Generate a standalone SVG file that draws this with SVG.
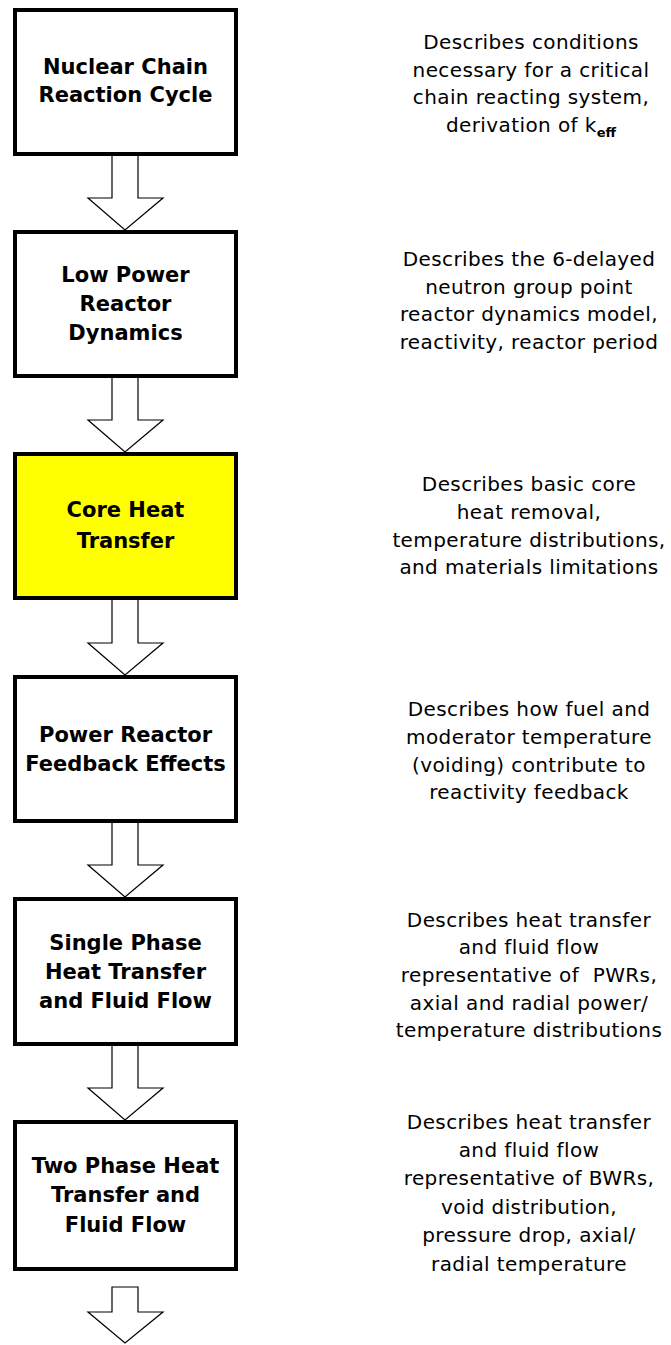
<svg xmlns="http://www.w3.org/2000/svg" width="671" height="1345" viewBox="0 0 671 1345">
<style>
.box{fill:#ffffff;stroke:#000000;stroke-width:4}
.hl{fill:#ffff00}
.arr{fill:#ffffff;stroke:#000000;stroke-width:1.2;stroke-linejoin:miter}
.lbl{font-family:"DejaVu Sans","Liberation Sans",sans-serif;font-weight:bold;font-size:21px;fill:#000000;text-anchor:middle}
.desc{font-family:"DejaVu Sans","Liberation Sans",sans-serif;font-size:20px;letter-spacing:0.4px;fill:#000000;text-anchor:middle}
.sub{font-weight:bold;font-size:13px;letter-spacing:0}
</style>
<rect width="671" height="1345" fill="#ffffff"/>
<g id="connectors">
<polygon class="arr" points="112,154 138,154 138,198 163,198 125,230 88,198 112,198"/>
<polygon class="arr" points="112,376 138,376 138,420 163,420 125,452 88,420 112,420"/>
<polygon class="arr" points="112,598 138,598 138,643 163,643 125,675 88,643 112,643"/>
<polygon class="arr" points="112,821 138,821 138,865 163,865 125,897 88,865 112,865"/>
<polygon class="arr" points="112,1044 138,1044 138,1088 163,1088 125,1120 88,1088 112,1088"/>
<polygon class="arr" points="112,1287 138,1287 138,1312 163,1312 125,1343 88,1312 112,1312"/>
</g>
<g id="node1">
<rect class="box" x="15" y="10" width="221" height="144"/>
<text class="lbl" x="125.5" y="74">Nuclear Chain</text>
<text class="lbl" x="125.5" y="102">Reaction Cycle</text>
</g>
<g id="node2">
<rect class="box" x="15" y="232" width="221" height="144"/>
<text class="lbl" x="125.5" y="282">Low Power</text>
<text class="lbl" x="125.5" y="311">Reactor</text>
<text class="lbl" x="125.5" y="340">Dynamics</text>
</g>
<g id="node3">
<rect class="box hl" x="15" y="454" width="221" height="144"/>
<text class="lbl" x="125.5" y="517">Core Heat</text>
<text class="lbl" x="125.5" y="548">Transfer</text>
</g>
<g id="node4">
<rect class="box" x="15" y="677" width="221" height="144"/>
<text class="lbl" x="125.5" y="742">Power Reactor</text>
<text class="lbl" x="125.5" y="771">Feedback Effects</text>
</g>
<g id="node5">
<rect class="box" x="15" y="899" width="221" height="145"/>
<text class="lbl" x="125.5" y="950">Single Phase</text>
<text class="lbl" x="125.5" y="979">Heat Transfer</text>
<text class="lbl" x="125.5" y="1008">and Fluid Flow</text>
</g>
<g id="node6">
<rect class="box" x="15" y="1122" width="221" height="147"/>
<text class="lbl" x="125.5" y="1173">Two Phase Heat</text>
<text class="lbl" x="125.5" y="1202">Transfer and</text>
<text class="lbl" x="125.5" y="1232">Fluid Flow</text>
</g>
<g id="desc1">
<text class="desc" x="531" y="49">Describes conditions</text>
<text class="desc" x="531" y="77">necessary for a critical</text>
<text class="desc" x="531" y="104">chain reacting system,</text>
<text class="desc" x="531" y="132">derivation of k<tspan class="sub" dy="5">eff</tspan></text>
</g>
<g id="desc2">
<text class="desc" x="529" y="266">Describes the 6-delayed</text>
<text class="desc" x="529" y="294">neutron group point</text>
<text class="desc" x="529" y="321">reactor dynamics model,</text>
<text class="desc" x="529" y="349">reactivity, reactor period</text>
</g>
<g id="desc3">
<text class="desc" x="529" y="491">Describes basic core</text>
<text class="desc" x="529" y="519">heat removal,</text>
<text class="desc" x="529" y="547">temperature distributions,</text>
<text class="desc" x="529" y="574">and materials limitations</text>
</g>
<g id="desc4">
<text class="desc" x="529" y="716">Describes how fuel and</text>
<text class="desc" x="529" y="744">moderator temperature</text>
<text class="desc" x="529" y="772">(voiding) contribute to</text>
<text class="desc" x="529" y="799">reactivity feedback</text>
</g>
<g id="desc5">
<text class="desc" x="529" y="927">Describes heat transfer</text>
<text class="desc" x="529" y="954">and fluid flow</text>
<text class="desc" x="529" y="982">representative of &#160;PWRs,</text>
<text class="desc" x="529" y="1010">axial and radial power/</text>
<text class="desc" x="529" y="1037">temperature distributions</text>
</g>
<g id="desc6">
<text class="desc" x="529" y="1129">Describes heat transfer</text>
<text class="desc" x="529" y="1157">and fluid flow</text>
<text class="desc" x="529" y="1185">representative of BWRs,</text>
<text class="desc" x="529" y="1214">void distribution,</text>
<text class="desc" x="529" y="1242">pressure drop, axial/</text>
<text class="desc" x="529" y="1271">radial temperature</text>
</g>
</svg>
